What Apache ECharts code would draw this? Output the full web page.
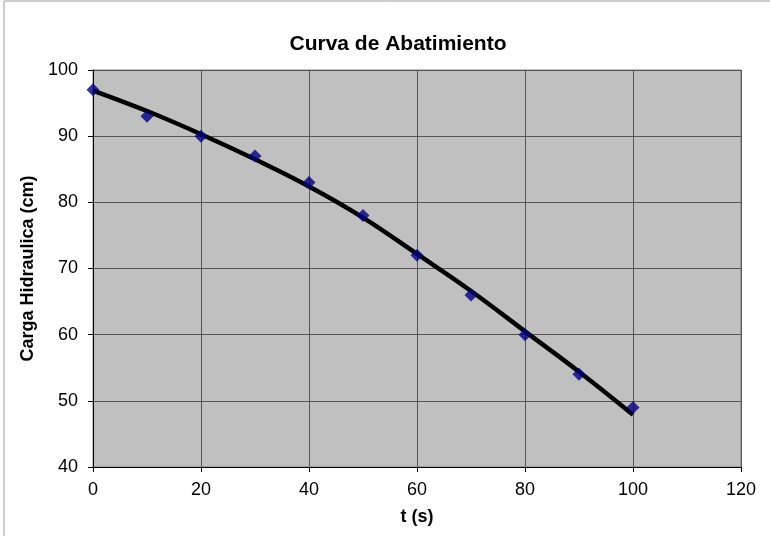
<!DOCTYPE html>
<html><head><meta charset="utf-8">
<script src="https://cdn.jsdelivr.net/npm/echarts@6/dist/echarts.min.js"></script>
<style>html,body{margin:0;padding:0;background:#fff}#c{width:770px;height:536px}</style>
</head><body><div id="c"></div>
<script>
const tValues = [0, 10, 20, 30, 40, 50, 60, 70, 80, 90, 100];
const headValues = [97, 93, 90, 87, 83, 78, 72, 66, 60, 54, 49];
const trendValues = [96.9, 93.8, 90.3, 86.5, 82.4, 77.7, 72.2, 66.6, 60.5, 54.4, 47.9];
const titleText = 'Curva de Abatimiento';
const xName = 't (s)';
const yName = 'Carga Hidraulica (cm)';

const chart = echarts.init(document.getElementById('c'), null, {renderer: 'canvas'});
const font = 'Liberation Sans, Arial, sans-serif';
chart.setOption({
  animation: false,
  backgroundColor: '#fff',
  title: {text: titleText, left: 393, top: 29, textAlign: 'center',
    textStyle: {fontFamily: font, fontSize: 21, fontWeight: 'bold', color: '#000'}},
  graphic: [
    {type: 'rect', shape: {x: 4, y: 1, width: 900, height: 700}, style: {fill: 'none', stroke: '#9a9a9a', lineWidth: 1}, z: -10},
    {type: 'rect', shape: {x: 93, y: 70, width: 648, height: 397}, style: {fill: '#c0c0c0', stroke: '#808080', lineWidth: 1}, z: -5}
  ],
  grid: {left: 93, top: 70, width: 648, height: 397, show: false},
  xAxis: {
    type: 'value', min: 0, max: 120, interval: 20,
    name: xName, nameLocation: 'middle', nameGap: 41,
    nameTextStyle: {fontFamily: font, fontSize: 18, fontWeight: 'bold', color: '#000'},
    axisLine: {onZero: false, lineStyle: {color: '#000', width: 1}},
    axisTick: {show: true, length: 5, inside: false, lineStyle: {color: '#000'}},
    axisLabel: {fontFamily: font, fontSize: 18, color: '#000', margin: 14},
    splitLine: {show: true, lineStyle: {color: '#555', width: 1}}
  },
  yAxis: {
    type: 'value', min: 40, max: 100, interval: 10,
    name: yName, nameLocation: 'middle', nameGap: 43,
    nameTextStyle: {fontFamily: font, fontSize: 18, fontWeight: 'bold', color: '#000'},
    axisLine: {onZero: false, lineStyle: {color: '#000', width: 1}},
    axisTick: {show: true, length: 5, lineStyle: {color: '#000'}},
    axisLabel: {fontFamily: font, fontSize: 18, color: '#000', margin: 15},
    splitLine: {show: true, lineStyle: {color: '#555', width: 1}}
  },
  series: [
    {type: 'line', data: tValues.map((t, i) => [t, trendValues[i]]), smooth: 0.4, showSymbol: false,
      lineStyle: {color: '#000', width: 4.5}, z: 2},
    {type: 'scatter', data: tValues.map((t, i) => [t, headValues[i]]), symbol: 'diamond', symbolSize: [13, 13],
      itemStyle: {color: '#000080'}, z: 3}
  ]
});
</script></body></html>
